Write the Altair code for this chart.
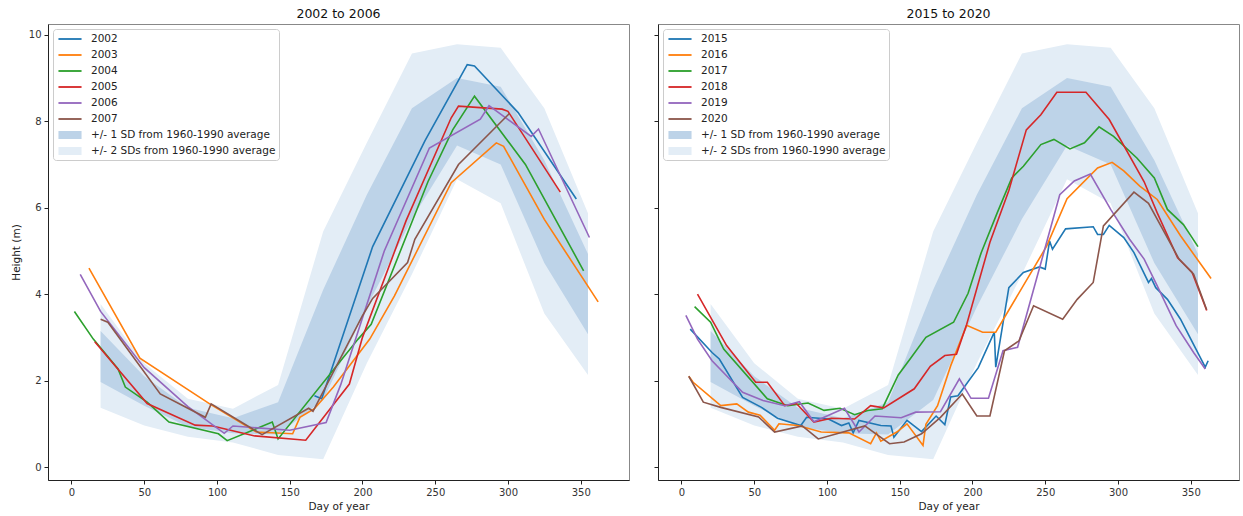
import altair as alt
import pandas as pd

FONT = "DejaVu Sans"

# ---------------- data ----------------
YEAR_COLORS = ["#1f77b4", "#ff7f0e", "#2ca02c", "#d62728", "#9467bd", "#8c564b"]
BAND_1SD = "+/- 1 SD from 1960-1990 average"
BAND_2SD = "+/- 2 SDs from 1960-1990 average"
BAND_COLORS = ["#bdd3e8", "#e3edf6"]

band_days = [20, 50, 80, 111, 142, 173, 203, 234, 265, 295, 325, 355]
band_upper2 = [3.77, 2.40, 1.58, 1.35, 1.90, 5.45, 7.50, 9.57, 9.78, 9.70, 8.30, 5.87]
band_upper1 = [3.15, 2.10, 1.37, 1.13, 1.50, 4.10, 6.30, 8.30, 9.00, 8.80, 7.10, 4.93]
band_lower1 = [1.97, 1.42, 0.93, 0.78, 0.75, 1.55, 3.70, 5.74, 7.44, 7.00, 4.72, 3.07]
band_lower2 = [1.37, 0.96, 0.70, 0.57, 0.28, 0.18, 2.40, 4.46, 6.66, 6.10, 3.55, 2.13]

# left panel: 2002 to 2006
years_left = ["2002", "2003", "2004", "2005", "2006", "2007"]
days_2002 = [167, 172, 207, 243, 272, 277, 307, 347]
vals_2002 = [1.65, 1.58, 5.10, 7.55, 9.31, 9.28, 8.20, 6.20]
days_2003 = [12, 47, 95, 127, 152, 157, 167, 180, 205, 222, 261, 292, 297, 325, 362]
vals_2003 = [4.60, 2.52, 1.46, 0.81, 0.77, 1.15, 1.35, 1.85, 2.96, 3.96, 6.58, 7.50, 7.42, 5.73, 3.82]
days_2004 = [2, 15, 32, 37, 52, 67, 101, 107, 138, 142, 197, 206, 245, 262, 277, 312, 352]
vals_2004 = [3.60, 2.96, 2.27, 1.85, 1.50, 1.04, 0.77, 0.61, 1.04, 0.65, 2.96, 3.30, 6.60, 7.80, 8.58, 7.00, 4.54]
days_2005 = [16, 52, 85, 97, 126, 161, 191, 200, 230, 261, 266, 296, 300, 336]
vals_2005 = [2.90, 1.47, 0.97, 0.95, 0.72, 0.62, 1.92, 3.00, 5.70, 8.08, 8.35, 8.28, 8.23, 6.36]
days_2006 = [6, 20, 50, 80, 105, 111, 150, 175, 185, 215, 246, 281, 287, 316, 321, 356]
vals_2006 = [4.46, 3.60, 2.30, 1.40, 0.78, 0.95, 0.85, 1.03, 1.90, 5.00, 7.38, 8.05, 8.36, 7.65, 7.82, 5.31]
days_2007 = [20, 25, 61, 92, 96, 131, 163, 166, 200, 207, 231, 236, 266, 301]
vals_2007 = [3.42, 3.35, 1.69, 1.15, 1.46, 0.75, 1.36, 1.29, 3.50, 3.90, 4.73, 5.27, 7.00, 8.18]

# right panel: 2015 to 2020
years_right = ["2015", "2016", "2017", "2018", "2019", "2020"]
days_2015 = [6, 21, 26, 42, 55, 66, 82, 86, 101, 110, 115, 118, 122, 137, 144, 146, 155, 165,
             175, 181, 185, 190, 204, 215, 216, 225, 235, 246, 250, 253, 255, 264, 283, 286,
             290, 294, 304, 311, 321, 323, 326, 334, 343, 360, 362]
vals_2015 = [3.19, 2.65, 2.50, 1.61, 1.38, 1.13, 0.96, 1.15, 1.11, 0.96, 1.02, 0.79, 1.08, 0.96,
             0.95, 0.69, 1.08, 0.82, 1.18, 0.98, 1.62, 1.65, 2.30, 3.12, 2.31, 4.15, 4.50, 4.63,
             4.58, 5.23, 5.04, 5.51, 5.56, 5.38, 5.38, 5.59, 5.31, 4.96, 4.27, 4.36, 4.15, 3.88,
             3.42, 2.31, 2.46]
days_2016 = [5, 8, 27, 38, 46, 54, 64, 67, 80, 96, 115, 130, 134, 137, 148, 155, 166, 168, 176,
             185, 196, 207, 216, 251, 265, 286, 296, 304, 315, 327, 343, 364]
vals_2016 = [2.10, 1.96, 1.42, 1.46, 1.27, 1.20, 0.85, 1.00, 0.96, 0.81, 0.79, 0.54, 0.79, 0.60,
             0.81, 1.00, 0.50, 0.99, 1.42, 2.34, 3.28, 3.12, 3.12, 5.11, 6.21, 6.92, 7.05, 6.85,
             6.50, 6.19, 5.35, 4.36]
days_2017 = [9, 20, 29, 59, 73, 87, 98, 109, 119, 128, 138, 149, 158, 168, 187, 197, 206, 217,
             227, 235, 247, 256, 267, 277, 287, 297, 313, 325, 334, 345, 355]
vals_2017 = [3.71, 3.35, 2.73, 1.58, 1.42, 1.48, 1.31, 1.36, 1.21, 1.31, 1.35, 2.13, 2.54, 3.00,
             3.35, 4.02, 4.96, 5.88, 6.69, 6.96, 7.46, 7.58, 7.36, 7.50, 7.87, 7.65, 7.15, 6.69,
             5.96, 5.61, 5.10]
days_2018 = [11, 31, 51, 59, 71, 79, 91, 103, 119, 130, 139, 160, 171, 181, 189, 196, 212, 225,
             237, 247, 258, 278, 294, 318, 327, 341, 351, 361]
vals_2018 = [4.00, 2.81, 1.96, 1.96, 1.42, 1.47, 1.04, 1.13, 1.11, 1.42, 1.37, 1.81, 2.33, 2.58,
             2.61, 3.30, 5.20, 6.40, 7.80, 8.15, 8.67, 8.67, 8.04, 6.60, 5.88, 4.84, 4.50, 3.62]
days_2019 = [3, 11, 21, 42, 56, 71, 81, 91, 112, 122, 133, 151, 161, 178, 191, 199, 211, 221,
             231, 244, 260, 270, 281, 295, 308, 318, 327, 340, 352, 360]
vals_2019 = [3.51, 2.96, 2.46, 1.73, 1.54, 1.42, 1.51, 1.05, 1.36, 0.81, 1.18, 1.14, 1.27, 1.28,
             2.04, 1.59, 1.59, 2.69, 2.77, 4.35, 6.30, 6.62, 6.78, 5.96, 5.27, 4.81, 4.19, 3.27,
             2.65, 2.27]
days_2020 = [5, 15, 27, 53, 64, 83, 94, 126, 143, 153, 165, 178, 193, 203, 212, 222, 232, 242,
             262, 272, 283, 290, 311, 321, 342, 352, 361]
vals_2020 = [2.10, 1.50, 1.38, 1.16, 0.81, 0.95, 0.65, 0.95, 0.54, 0.58, 0.77, 1.15, 1.69, 1.18,
             1.18, 2.69, 2.92, 3.73, 3.42, 3.88, 4.27, 5.58, 6.36, 6.10, 4.81, 4.46, 3.64]

x_ticks = [0, 50, 100, 150, 200, 250, 300, 350]
y_ticks = [0, 2, 4, 6, 8, 10]
X_DOMAIN = [-16.15, 383.2]
Y_DOMAIN = [-0.3, 10.25]

# ---------------- build ----------------
BANDS = [BAND_1SD, BAND_2SD]
LEGEND_SWATCHES = ["#c3d8ec", "#e4eef7"]


def js_list(items):
    return "[" + ",".join("'" + s + "'" for s in items) + "]"


def make_panel(title, years, days_list, vals_list, first):
    domain = years + BANDS
    colors = YEAR_COLORS + BAND_COLORS
    legend_colors = YEAR_COLORS + LEGEND_SWATCHES

    rows = []
    for yr, ds, vs in zip(years, days_list, vals_list):
        for i, (d, v) in enumerate(zip(ds, vs)):
            rows.append({"series": yr, "day": d, "height": v, "order": i})
    lines_df = pd.DataFrame(rows)

    band2_df = pd.DataFrame({"series": BAND_2SD, "day": band_days,
                             "lo": band_lower2, "hi": band_upper2})
    band1_df = pd.DataFrame({"series": BAND_1SD, "day": band_days,
                             "lo": band_lower1, "hi": band_upper1})

    is_band = "indexof(" + js_list(BANDS) + ", datum.value) >= 0"
    legend = alt.Legend(
        title=None, orient="top-left", offset=5, padding=3,
        fillColor="rgba(255,255,255,0.85)", strokeColor="#cccccc", cornerRadius=3,
        labelFont=FONT, labelFontSize=10.5, labelColor="#222222", labelOffset=14,
        labelLimit=400,
        symbolSize=196, rowPadding=3, symbolOffset=7,
        symbolType=alt.ExprRef(expr=is_band + " ? 'M-1.65,-0.57H1.65V0.57H-1.65Z' : 'M-1.65,-0.13H1.65V0.13H-1.65Z'"),
        symbolFillColor=alt.ExprRef(expr=js_list(legend_colors) + "[indexof(" + js_list(domain) + ", datum.value)]"),
        symbolStrokeWidth=0, symbolOpacity=1,
    )
    color = alt.Color("series:N", scale=alt.Scale(domain=domain, range=colors), legend=legend)

    x_axis = alt.Axis(values=x_ticks, title="Day of year", grid=False, tickSize=4,
                      labelPadding=3, titlePadding=4)
    if first:
        y_axis = alt.Axis(values=y_ticks, title="Height (m)", grid=False, tickSize=4,
                          labelPadding=3, minExtent=21, maxExtent=21, titlePadding=6)
    else:
        y_axis = alt.Axis(values=y_ticks, title=None, labels=False, grid=False, tickSize=4,
                          minExtent=4, maxExtent=4)

    x = alt.X("day:Q", scale=alt.Scale(domain=X_DOMAIN, nice=False, zero=False), axis=x_axis)
    yscale = alt.Scale(domain=Y_DOMAIN, nice=False, zero=False)

    band2 = alt.Chart(band2_df).mark_area(interpolate="linear", opacity=1).encode(
        x=x, y=alt.Y("lo:Q", scale=yscale, axis=y_axis), y2="hi:Q", color=color)
    band1 = alt.Chart(band1_df).mark_area(interpolate="linear", opacity=1).encode(
        x=x, y=alt.Y("lo:Q", scale=yscale, axis=y_axis), y2="hi:Q", color=color)
    lines = alt.Chart(lines_df).mark_line(strokeWidth=1.6).encode(
        x=x, y=alt.Y("height:Q", scale=yscale, axis=y_axis),
        color=color, order="order:Q", detail="series:N")

    return alt.layer(band2, band1, lines).properties(
        width=581, height=456,
        title=alt.TitleParams(title, fontSize=12.5, font=FONT, fontWeight="normal",
                              color="#111111", offset=4))


left = make_panel("2002 to 2006", years_left,
                  [days_2002, days_2003, days_2004, days_2005, days_2006, days_2007],
                  [vals_2002, vals_2003, vals_2004, vals_2005, vals_2006, vals_2007], True)
right = make_panel("2015 to 2020", years_right,
                   [days_2015, days_2016, days_2017, days_2018, days_2019, days_2020],
                   [vals_2015, vals_2016, vals_2017, vals_2018, vals_2019, vals_2020], False)

chart = alt.hconcat(left, right, spacing=29, bounds="flush").resolve_scale(
    color="independent").resolve_legend(color="independent").properties(
    padding={"left": 10, "top": 7, "right": 0, "bottom": 0}, background="white"
).configure_view(stroke="#888888", strokeWidth=1).configure_axis(
    domainColor="#222222", tickColor="#222222", labelColor="#333333",
    titleColor="#222222", labelFont=FONT, titleFont=FONT, labelFontSize=10,
    titleFontSize=10.5, titleFontWeight="normal"
)

chart.save("out.html", embed_options={"renderer": "svg", "actions": False})
